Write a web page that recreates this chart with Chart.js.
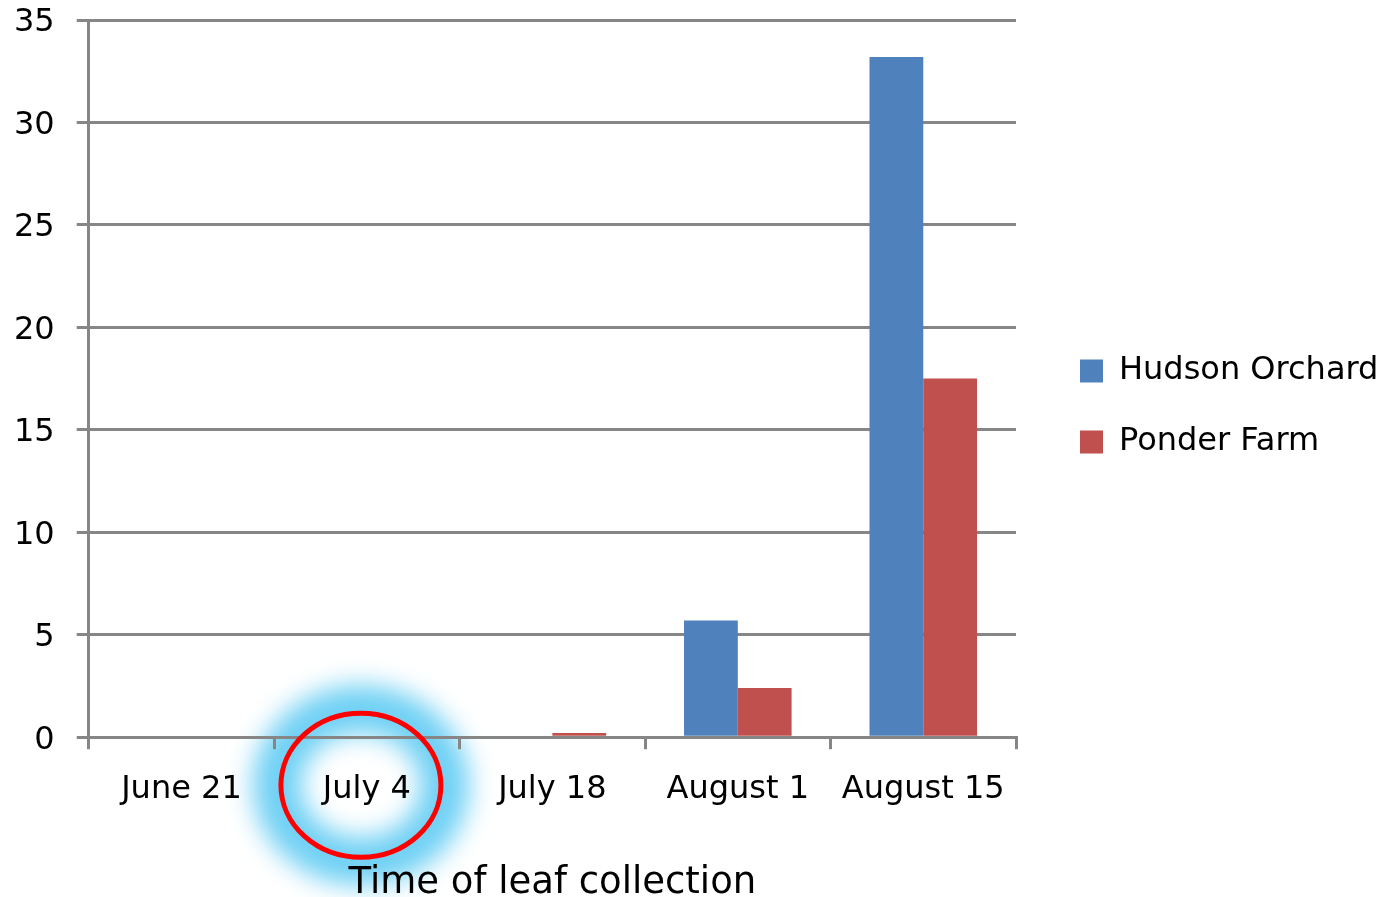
<!DOCTYPE html>
<html>
<head>
<meta charset="utf-8">
<script src="https://cdn.jsdelivr.net/npm/chart.js@4.4.1/dist/chart.umd.min.js"></script>
<style>
  html, body { margin: 0; padding: 0; background: #ffffff; }
  #wrap { width: 1392px; height: 897px; position: relative; }
</style>
</head>
<body>
<div id="wrap"><canvas id="c" width="1392" height="897"></canvas></div>
<script>
const categories = ['June 21', 'July 4', 'July 18', 'August 1', 'August 15'];
const hudsonOrchard = [0, 0, 0, 5.7, 33.2];
const ponderFarm = [0, 0, 0.2, 2.4, 17.5];
const yTicks = [0, 5, 10, 15, 20, 25, 30, 35];
const seriesNames = ['Hudson Orchard', 'Ponder Farm'];
const xTitle = 'Time of leaf collection';
const highlightIndex = 1;

const FONT = "'DejaVu Sans', Verdana, sans-serif";
const GRID = '#868686';

function ringGeom(chart) {
  const xs = chart.scales.x;
  return { cx: xs.getPixelForValue(highlightIndex) - 6, cy: chart.chartArea.bottom + 48, rx: 80, ry: 72 };
}

const circlePlugin = {
  id: 'circleHighlight',
  beforeLayout(chart) {
    const L = chart.legend;
    if (L && !L._widened) {
      const f = L.fit.bind(L);
      L.fit = function () { f(); this.width += 17; };
      L._widened = true;
    }
  },
  afterLayout(chart) {
    const L = chart.legend;
    if (L) { L.bottom -= 113; L.left += 25; L.right += 25; }
  },
  beforeDraw(chart) {
    const g = ringGeom(chart);
    const ctx = chart.ctx;
    ctx.save();
    ctx.filter = 'blur(13px)';
    ctx.globalAlpha = 0.95;
    ctx.strokeStyle = '#66cdf3';
    ctx.lineWidth = 48;
    ctx.beginPath();
    ctx.ellipse(g.cx, g.cy, g.rx + 4, g.ry + 4, 0, 0, Math.PI * 2);
    ctx.stroke();
    ctx.restore();
  },
  afterDraw(chart) {
    const g = ringGeom(chart);
    const ctx = chart.ctx;
    ctx.save();
    ctx.strokeStyle = '#ff0000';
    ctx.lineWidth = 5;
    ctx.beginPath();
    ctx.ellipse(g.cx, g.cy, g.rx, g.ry, 0, 0, Math.PI * 2);
    ctx.stroke();
    ctx.restore();
  }
};

new Chart(document.getElementById('c'), {
  type: 'bar',
  data: {
    labels: categories,
    datasets: [
      { label: seriesNames[0], data: hudsonOrchard, backgroundColor: '#4f81bd', borderWidth: 0 },
      { label: seriesNames[1], data: ponderFarm, backgroundColor: '#c0504d', borderWidth: 0 }
    ]
  },
  options: {
    responsive: false,
    animation: false,
    devicePixelRatio: 1,
    layout: { padding: { top: 20, right: 12, left: -8, bottom: -9 } },
    datasets: { bar: { categoryPercentage: 0.58, barPercentage: 1.0 } },
    scales: {
      x: {
        grid: { display: true, drawOnChartArea: false, drawTicks: true, tickLength: 12, color: GRID, lineWidth: 3, offset: true },
        border: { display: true, color: GRID, width: 3 },
        ticks: { color: '#000', font: { family: FONT, size: 32 }, padding: 21 },
        title: { display: true, text: xTitle, color: '#000', font: { family: FONT, size: 37 }, padding: { top: 32, bottom: 0 } }
      },
      y: {
        min: 0, max: 35,
        afterBuildTicks(scale) { scale.ticks = yTicks.map(v => ({ value: v })); },
        afterFit(scale) { scale.paddingTop = 0; scale.paddingBottom = 0; },
        grid: { color: GRID, lineWidth: 3, tickLength: 12, drawTicks: true },
        border: { display: true, color: GRID, width: 3 },
        ticks: { color: '#000', font: { family: FONT, size: 32 }, padding: 22, labelOffset: 3 }
      }
    },
    plugins: {
      legend: {
        position: 'right',
        labels: { color: '#000', font: { family: FONT, size: 32 }, boxWidth: 23, boxHeight: 23, padding: 39 }
      },
      tooltip: { enabled: false }
    }
  },
  plugins: [circlePlugin]
});
</script>
</body>
</html>
